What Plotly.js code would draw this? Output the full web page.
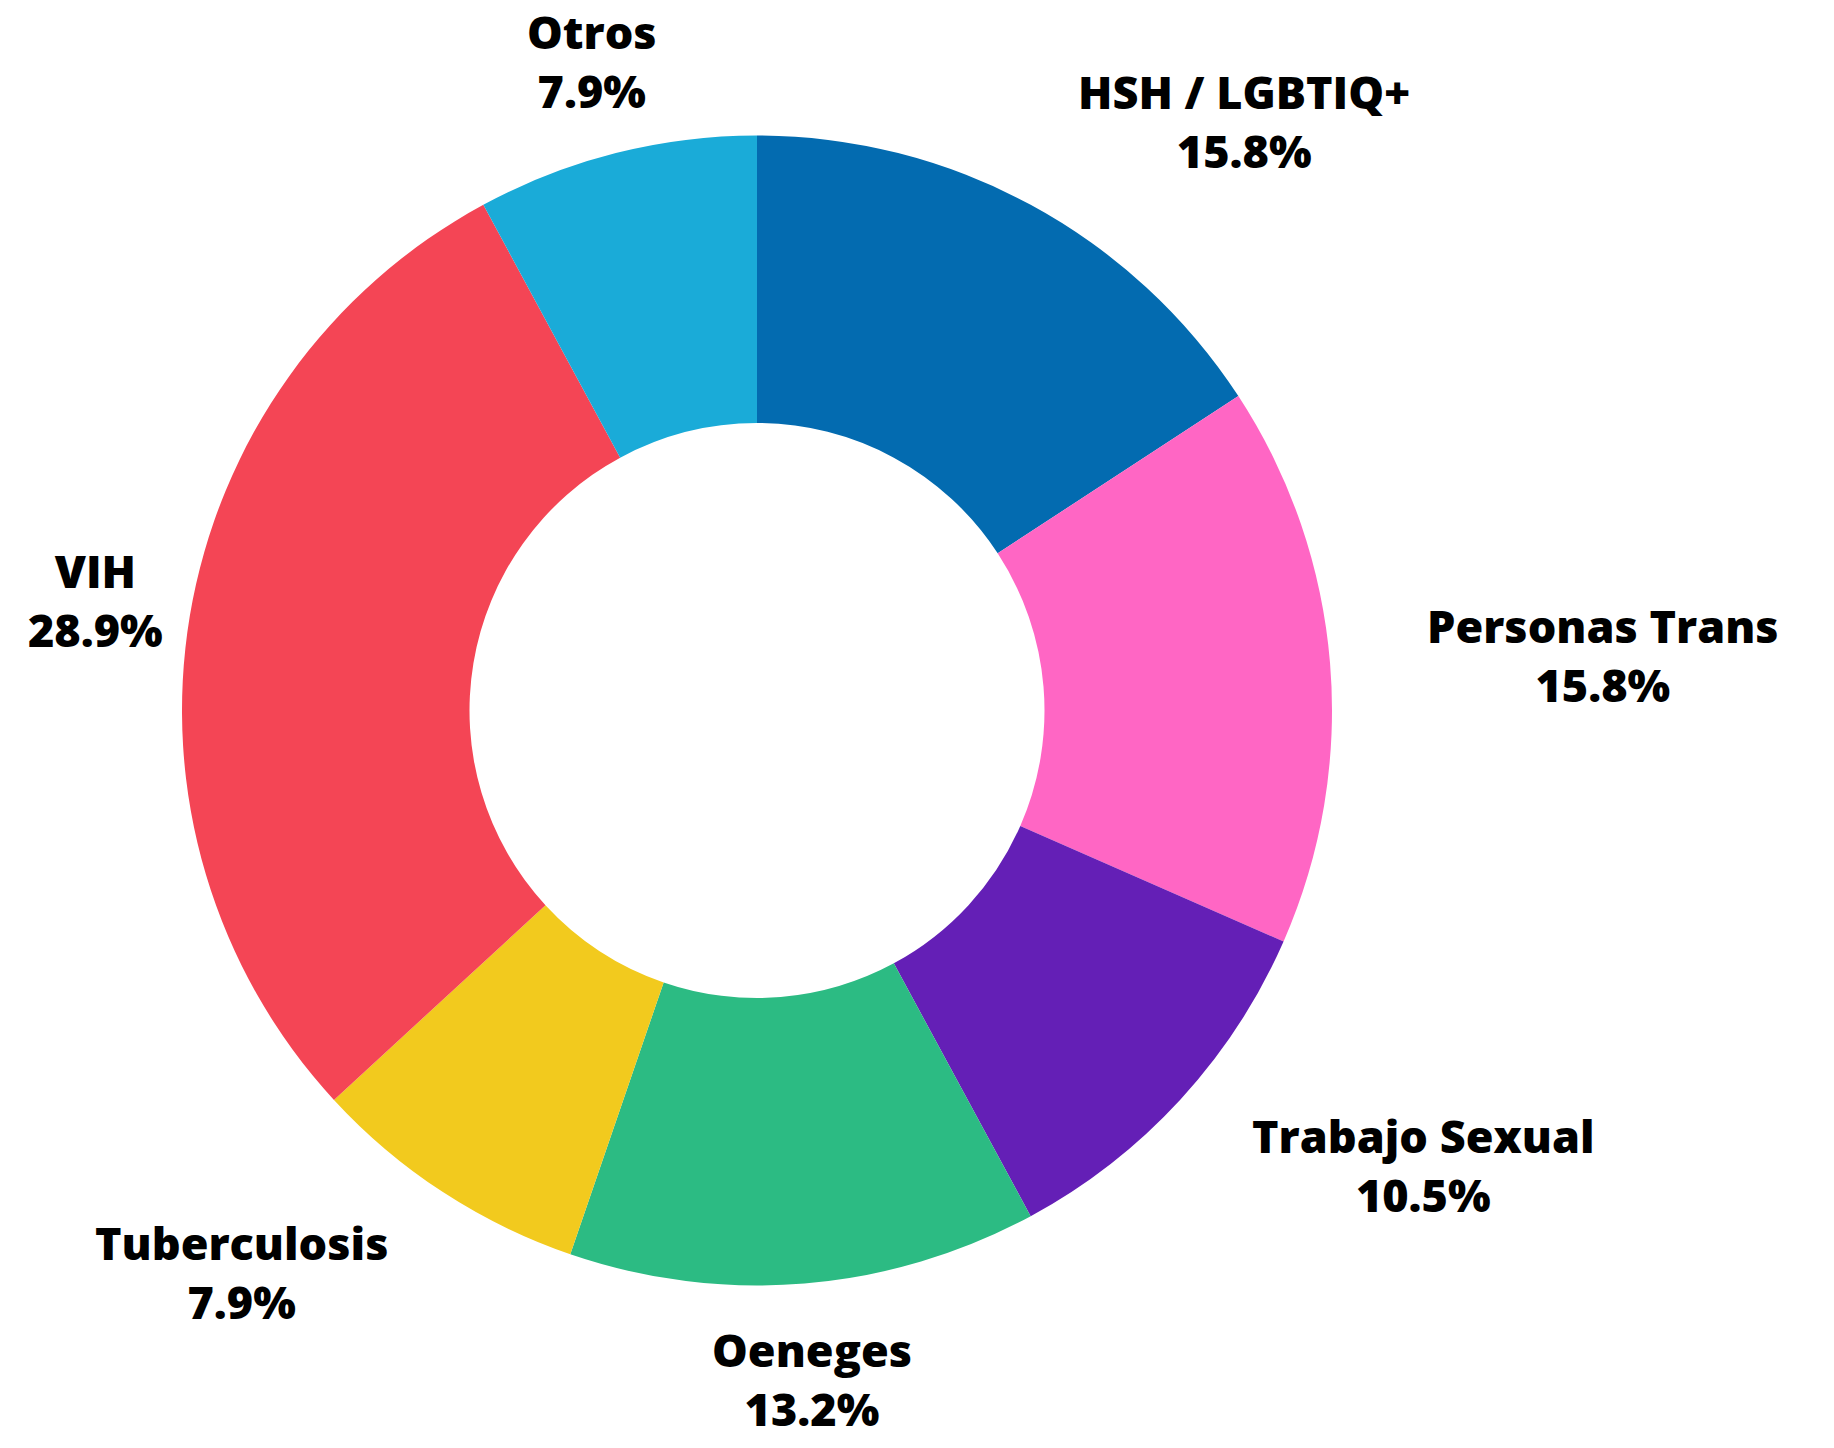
<!DOCTYPE html>
<html>
<head>
<meta charset="utf-8">
<script src="https://cdn.plot.ly/plotly-3.0.1.min.js"></script>
<style>
  html, body { margin: 0; padding: 0; background: #ffffff; }
  #chart { width: 1834px; height: 1448px; }
</style>
</head>
<body>
<div id="chart"></div>
<script>
// ---- data ----
const categories = ["HSH / LGBTIQ+", "Personas Trans", "Trabajo Sexual", "Oeneges", "Tuberculosis", "VIH", "Otros"];
const counts = [6, 6, 4, 5, 3, 11, 3];

// ---- styles ----
const colors = ["#036BB0", "#FF66C4", "#641FB6", "#2CBB83", "#F2CA1E", "#F44555", "#1AABD8"];
const labelAnchors = ["left", "left", "left", "center", "right", "center", "center"];

const W = 1834, H = 1448;
const cx = 757, cy = 710.5, R = 575;
const labelDist = 1.166;

const total = counts.reduce((a, b) => a + b, 0);

const trace = {
  type: "pie",
  labels: categories,
  values: counts,
  sort: false,
  direction: "clockwise",
  rotation: 0,
  hole: 0.5,
  textinfo: "none",
  hoverinfo: "none",
  marker: { colors: colors, line: { width: 0 } },
  domain: { x: [(cx - R) / W, (cx + R) / W], y: [(H - cy - R) / H, (H - cy + R) / H] },
  showlegend: false
};

// label annotations positioned from the data (mid-angle of each slice)
const annotations = [];
let cum = 0;
counts.forEach((v, i) => {
  const frac = v / total;
  const mid = (cum + frac / 2) * 2 * Math.PI;
  cum += frac;
  const px = cx + labelDist * R * Math.sin(mid);
  const py = cy - labelDist * R * Math.cos(mid);
  annotations.push({
    xref: "paper", yref: "paper",
    x: px / W, y: 1 - py / H,
    xanchor: labelAnchors[i], yanchor: "middle",
    align: "center",
    showarrow: false,
    text: categories[i] + "<br>" + (frac * 100).toFixed(1) + "%",
    font: { family: "Open Sans", size: 45, color: "#000000", weight: 800 }
  });
});

const layout = {
  width: W, height: H,
  margin: { l: 0, r: 0, t: 0, b: 0 },
  paper_bgcolor: "#ffffff",
  plot_bgcolor: "#ffffff",
  annotations: annotations,
  showlegend: false
};

Plotly.newPlot("chart", [trace], layout, { displayModeBar: false, staticPlot: true });
</script>
</body>
</html>
